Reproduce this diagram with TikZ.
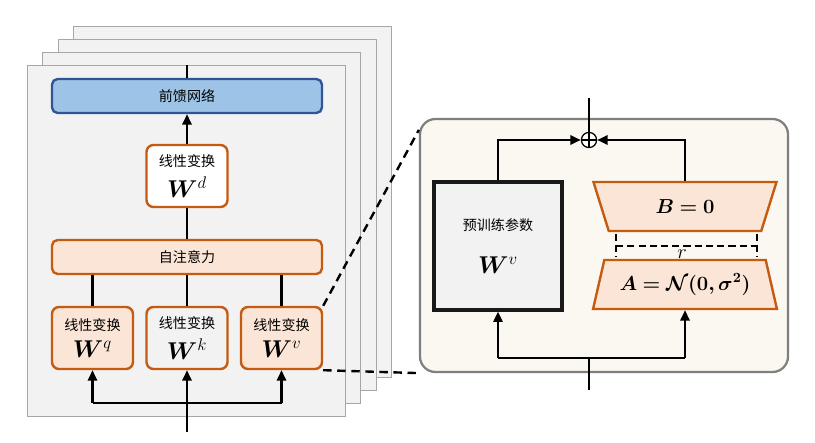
\documentclass[tikz,border=0pt]{standalone}
\usepackage{amsmath,amssymb,bm}
\usepackage{fontspec}
\newfontfamily\cjk{Noto Sans CJK SC}
\usetikzlibrary{shapes.geometric,arrows.meta}
\definecolor{panelgray}{HTML}{F2F2F2}
\definecolor{panelline}{HTML}{A6A6A6}
\definecolor{ffnblue}{HTML}{9DC3E6}
\definecolor{ffnline}{HTML}{2F5597}
\definecolor{lorange}{HTML}{C55A11}
\definecolor{lpeach}{HTML}{FBE5D6}
\definecolor{lcream}{HTML}{FAF8F0}
\definecolor{lgrayline}{HTML}{7F7F7F}

\begin{document}
\begin{tikzpicture}[x=1cm,y=1cm,line width=1.6pt,font=\cjk\fontsize{10}{12}\selectfont,
  >={Triangle[length=2.6mm,width=2.3mm]},
  wbox/.style={draw=lorange,line width=1.7pt,rounded corners=5pt,minimum width=2.025cm,minimum height=1.55cm,align=center,inner sep=1pt},
  wide/.style={draw=lorange,fill=lpeach,line width=1.7pt,rounded corners=4pt,minimum width=6.75cm,minimum height=0.85cm},
  trap/.style={draw=lorange,fill=lpeach,line width=1.7pt,trapezium,trapezium angle=67,trapezium stretches=true,minimum width=4.6cm,minimum height=1.225cm,inner sep=0pt},
  dashline/.style={line width=1.7pt,dash pattern=on 6pt off 4pt}]
\path[use as bounding box] (0,0) rectangle (20.375,11.05);
% stacked layers
\foreach \k in {3,2,1,0} {\draw[fill=panelgray,draw=panelline,line width=0.7pt] ({0.675+0.39*\k},{0.65+0.32*\k}) rectangle ({8.625+0.39*\k},{9.425+0.32*\k});}
% transformer layer
\node[draw=ffnline,fill=ffnblue,line width=1.7pt,rounded corners=4pt,minimum width=6.75cm,minimum height=0.85cm] (ffn) at (4.675,8.65) {前馈网络};
\node[wbox,fill=white] (wd) at (4.675,6.65) {线性变换\\[5pt]\LARGE$\bm{W}^d$};
\node[wide] (attn) at (4.675,4.625) {自注意力};
\node[wbox,fill=lpeach] (wq) at (2.3125,2.6) {线性变换\\[5pt]\LARGE$\bm{W}^q$};
\node[wbox,fill=panelgray] (wk) at (4.675,2.6) {线性变换\\[5pt]\LARGE$\bm{W}^k$};
\node[wbox,fill=lpeach] (wv) at (7.0375,2.6) {线性变换\\[5pt]\LARGE$\bm{W}^v$};
\coordinate (out) at (4.675,9.425); \coordinate (in) at (4.675,0.25);
\draw (ffn.north)--(out);
\draw[->] (wd.north)--(ffn.south);
\draw (attn.north)--(wd.south);
\foreach \n in {wq,wk,wv} {\draw (\n.north)--(\n.north|-attn.south);}
\draw[->] (in)--(wk.south);
\draw[->] (wq.south|-0,0.975)--(wq.south);
\draw[->] (wv.south|-0,0.975)--(wv.south);
\draw (wq.south|-0,0.975)--(wv.south|-0,0.975);
% LoRA detail
\node[draw=lgrayline,fill=lcream,line width=1.6pt,rounded corners=11pt,minimum width=9.2cm,minimum height=6.325cm] (lora) at (15.1,4.9125) {};
\draw[dashline] (wv.north east)--([yshift=-0.3cm]lora.north west);
\draw[dashline] (wv.south east)--(lora.south west);
\node[draw=black!90,fill=panelgray,line width=2.2pt,minimum width=3.2cm,minimum height=3.2cm] (pre) at (12.45,4.9) {};
\node (pretxt) at (12.45,5.425) {预训练参数};
\node[font=\LARGE] (prew) at (12.45,4.425) {$\bm{W}^v$};
\node[trap,shape border rotate=180] (lb) at (17.125,5.8875) {\Large$\bm{B=0}$};
\node[trap] (la) at (17.125,3.9375) {\Large$\bm{A=\mathcal{N}(0,\sigma^2)}$};
\node[draw,circle,fill=white,line width=0.9pt,minimum size=0.38cm,inner sep=0pt] (add) at (14.725,7.55) {};
\draw[line width=0.9pt] (add.north)--(add.south) (add.west)--(add.east);
\coordinate (lout) at (14.725,8.6); \coordinate (lin) at (14.725,1.3);
\draw (add.north)--(lout);
\draw[->] (pre.north)|-(add.west);
\draw[->] (lb.north)|-(add.east);
\draw (lin)--(14.725,2.1);
\draw[->] (pre.south|-0,2.1)--(pre.south);
\draw[->] (la.south|-0,2.1)--(la.south);
\draw (pre.south|-0,2.1)--(la.south|-0,2.1);
% rank r
\coordinate (r1) at (15.4,5.2); \coordinate (r2) at (18.925,5.2);
\draw[line width=1.3pt,dash pattern=on 5pt off 3pt] (r1)--(r1|-0,4.625) (r2)--(r2|-0,4.625);
\draw[line width=1.3pt,dash pattern=on 5pt off 3pt] (r1|-0,4.9)--(r2|-0,4.9);
\node[font=\Large,inner sep=0pt] (rlab) at (17.05,4.7) {$r$};
\end{tikzpicture}
\end{document}
